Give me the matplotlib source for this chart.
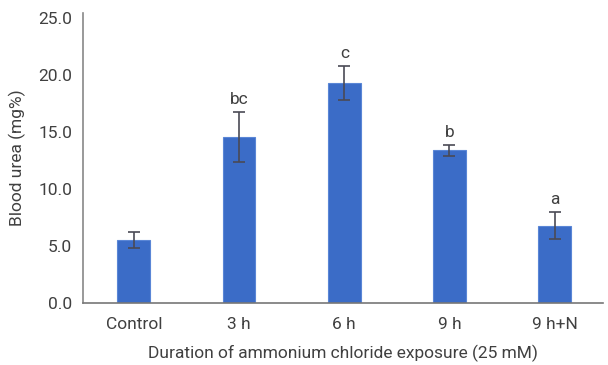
import matplotlib
matplotlib.use("Agg")
import matplotlib.pyplot as plt
from matplotlib.ticker import FormatStrFormatter

groups = ["Control", "3 h", "6 h", "9 h", "9 h+N"]
urea = [5.5, 14.6, 19.3, 13.4, 6.8]
err = [0.7, 2.2, 1.5, 0.5, 1.2]
letters = ["", "bc", "c", "b", "a"]

plt.rcParams["font.family"] = ["Roboto", "DejaVu Sans"]

fig = plt.figure(figsize=(6.08, 3.65), dpi=100)
ax = fig.add_axes([0.137, 0.17, 0.855, 0.794])

x = range(len(groups))
ax.bar(x, urea, width=0.31, color="#3b6cc7", edgecolor="#5a86d6", linewidth=0.8, zorder=2)
ax.errorbar(x, urea, yerr=err, fmt="none", ecolor="#4a4a55", elinewidth=1.2,
            capsize=4, capthick=1.2, zorder=3)

for i, lab in enumerate(letters):
    if lab:
        ax.text(i, urea[i] + err[i] + 0.45, lab, ha="center", va="bottom",
                fontsize=12.5, color="#404040")

ax.set_xlim(-0.48, 4.46)
ax.set_ylim(0, 25.45)
ax.set_yticks([0, 5, 10, 15, 20, 25])
ax.yaxis.set_major_formatter(FormatStrFormatter("%.1f"))
ax.set_xticks(list(x))
ax.set_xticklabels(groups)
ax.tick_params(axis="x", length=0, labelsize=12.5, labelcolor="#404040", pad=10)
ax.tick_params(axis="y", length=0, labelsize=12.5, labelcolor="#404040", pad=8)

for s in ["top", "right"]:
    ax.spines[s].set_visible(False)
ax.spines["left"].set_color("#888888")
ax.spines["bottom"].set_color("#777777")
ax.spines["left"].set_linewidth(1.2)
ax.spines["bottom"].set_linewidth(1.2)
ax.spines["bottom"].set_zorder(4)

ax.set_ylabel("Blood urea (mg%)", fontsize=12.5, color="#404040", labelpad=9)
ax.set_xlabel("Duration of ammonium chloride exposure (25 mM)", fontsize=12.5,
              color="#404040", labelpad=9)

fig.savefig("out.png", dpi=100)
